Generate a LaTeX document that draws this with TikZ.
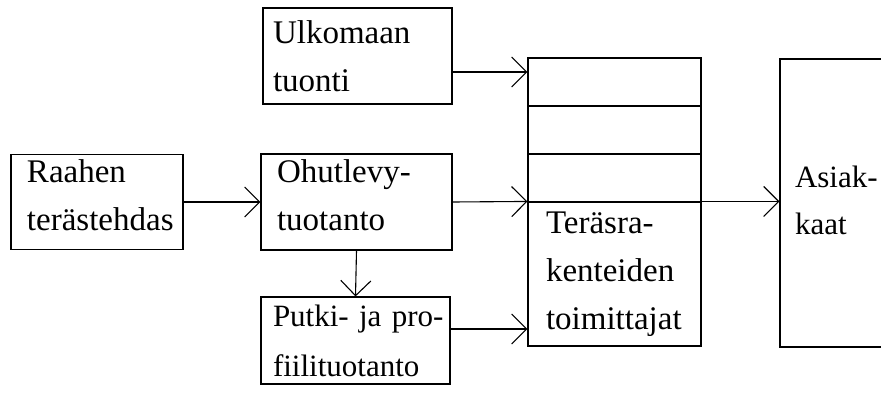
\documentclass[tikz,border=0pt]{standalone}
\usepackage{fontspec}
\setmainfont{Liberation Serif}
\usetikzlibrary{positioning,arrows.meta,calc}

\tikzstyle{flow}=[arrows={-Straight Barb[length=15pt,width=30pt]},draw=black,line width=1.1pt]
\tikzstyle{block}=[draw=black,line width=1.1pt]
\tikzstyle{unit}=[style=block, rectangle, inner ysep=0pt, inner xsep=16pt,
    align=left, font=\fontsize{33}{48}\selectfont]
\tikzstyle{cell}=[style=block, rectangle, inner sep=0pt,
    minimum width=173pt, minimum height=48pt]
\tikzset{lift/.style={execute at end node={\par\vspace*{#1}}}}

\begin{document}
\begin{tikzpicture}[x=1pt,y=-1pt]

    \useasboundingbox (0,0) rectangle (881,396);

    % producers
    \node[unit, lift=14pt, text width=140pt, minimum height=95pt]
        (raahen) at (97,202) {Raahen\\terästehdas};
    \node[unit, inner xsep=10pt, text width=169pt, minimum height=96pt]
        (ulko) at (357.5,56) {Ulkomaan\\tuonti};
    \node[unit, lift=14pt, text width=159pt, minimum height=96pt]
        (ohut) at (356.5,202) {Ohutlevy-\\tuotanto};
    \node[unit, inner xsep=12pt, text width=165pt, minimum height=87pt,
        font=\fontsize{31}{50}\selectfont]
        (putki) at (355.5,340.5) {\mbox{Putki- ja pro-}\\fiilituotanto};

    % steel structure suppliers
    \node[cell] (cell1) at (614.5,82) {};
    \node[cell] (cell2) at (614.5,130) {};
    \node[cell] (cell3) at (614.5,178) {};
    \node[unit, inner xsep=18pt, text width=137pt, minimum height=144pt]
        (toim) at (614.5,274) {Teräsra-\\kenteiden\\toimittajat};

    % customers
    \node[unit, lift=6pt, inner xsep=15pt, text width=110pt, minimum height=288pt,
        font=\fontsize{31}{47}\selectfont]
        (asiak) at (850,203) {Asiak-\\kaat};

    % arrows
    \coordinate (ulkoout) at ([yshift=-16pt]ulko.east);
    \coordinate (putkiout) at ([yshift=11.5pt]putki.east);
    \draw[flow] (raahen.east) -- (ohut.west);
    \draw[flow] (ulkoout) -- (ulkoout -| cell1.west);
    \draw[flow] (ohut.east) -- (toim.north west);
    \draw[flow] (ohut.south) -- (putki.north);
    \draw[flow] (putkiout) -- (putkiout -| toim.west);
    \draw[flow] (toim.north east) -- (toim.north east -| asiak.west);

\end{tikzpicture}
\end{document}
